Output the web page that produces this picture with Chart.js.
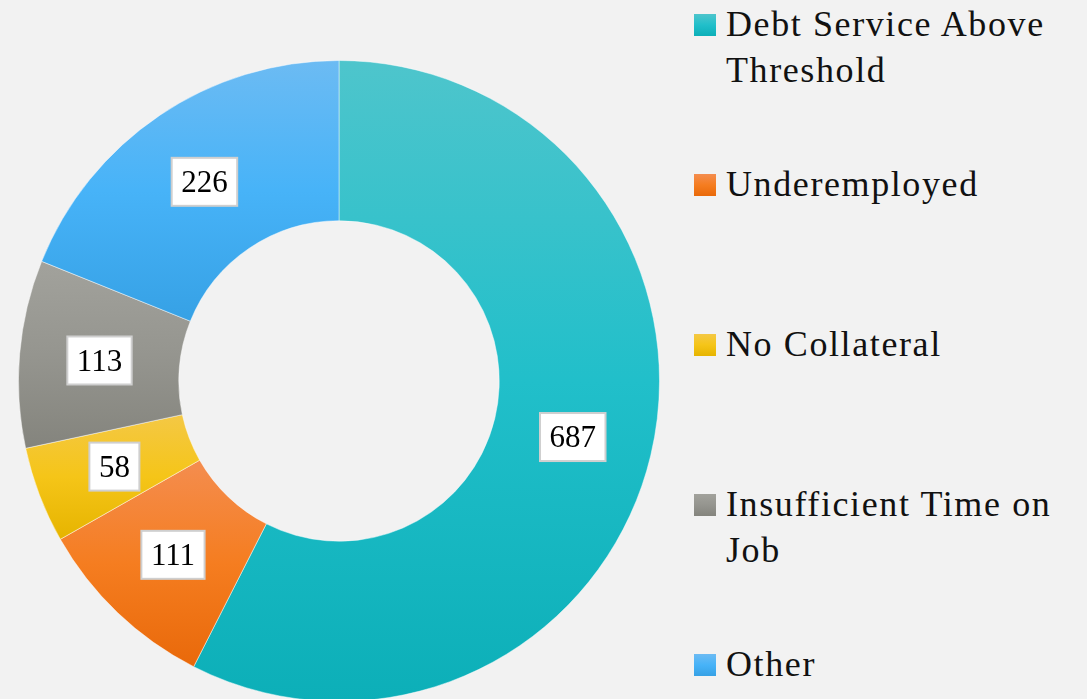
<!DOCTYPE html>
<html>
<head>
<meta charset="utf-8">
<script src="https://cdn.jsdelivr.net/npm/chart.js@4.4.1/dist/chart.umd.min.js"></script>
<style>
  html, body { margin: 0; padding: 0; background: #f2f2f2; overflow: hidden; width: 1087px; height: 699px; }
  #wrap { position: absolute; left: 18px; top: 60px; width: 642px; height: 642px; }
  #legend { position: absolute; left: 694px; top: 0; width: 393px; height: 699px;
            font-family: "Liberation Serif", serif; font-size: 36px; letter-spacing: 1.6px; color: #111; }
  .item { position: absolute; left: 0; }
  .sw { position: absolute; left: 0; top: 13px; width: 22px; height: 22px; }
  .txt { position: absolute; left: 32px; width: 350px; line-height: 46px; }
</style>
</head>
<body>
<div id="wrap"><canvas id="chart"></canvas></div>
<div id="legend"></div>
<script>
// data
const labels = ['Debt Service Above Threshold', 'Underemployed', 'No Collateral', 'Insufficient Time on Job', 'Other'];
const values = [687, 111, 58, 113, 226];

// colours: each slice shades from top to bottom
const topColors = ['#4ec5cc', '#f48d4f', '#f4c845', '#a2a29c', '#6cbbf3'];
const midColors = ['#21bfca', '#f57d20', '#f5c518', '#95958f', '#47b3f8'];
const bottomColors = ['#0cafb8', '#e9690a', '#e6b400', '#84847d', '#36a1e5'];

// fill each arc with a vertical gradient over its own height
const sliceGradient = {
    id: 'sliceGradient',
    beforeDatasetsDraw(chart) {
        const ctx = chart.ctx;
        chart.getDatasetMeta(0).data.forEach((arc, i) => {
            let minY = Infinity, maxY = -Infinity;
            for (let s = 0; s <= 64; s++) {
                const a = arc.startAngle + (arc.endAngle - arc.startAngle) * s / 64;
                for (const r of [arc.innerRadius, arc.outerRadius]) {
                    const y = arc.y + r * Math.sin(a);
                    minY = Math.min(minY, y);
                    maxY = Math.max(maxY, y);
                }
            }
            const g = ctx.createLinearGradient(0, minY, 0, maxY);
            g.addColorStop(0, topColors[i]);
            g.addColorStop(0.5, midColors[i]);
            g.addColorStop(1, bottomColors[i]);
            arc.options = Object.assign({}, arc.options, {backgroundColor: g});
        });
    }
};

// white value boxes at the middle of each slice
const valueBoxes = {
    id: 'valueBoxes',
    afterDatasetsDraw(chart) {
        const ctx = chart.ctx;
        ctx.save();
        ctx.font = '31px "Liberation Serif", serif';
        ctx.textAlign = 'center';
        ctx.textBaseline = 'middle';
        chart.getDatasetMeta(0).data.forEach((arc, i) => {
            const p = arc.tooltipPosition();
            const text = String(chart.data.datasets[0].data[i]);
            const w = ctx.measureText(text).width + 19;
            const h = 48;
            ctx.fillStyle = '#ffffff';
            ctx.fillRect(p.x - w / 2, p.y - h / 2, w, h);
            ctx.strokeStyle = '#cfcfcf';
            ctx.lineWidth = 2;
            ctx.strokeRect(p.x - w / 2, p.y - h / 2, w, h);
            ctx.fillStyle = '#000000';
            ctx.fillText(text, p.x, p.y + 2);
        });
        ctx.restore();
    }
};

const chart = new Chart(document.getElementById('chart'), {
    type: 'doughnut',
    data: {
        labels: labels,
        datasets: [{
            data: values,
            backgroundColor: midColors,
            borderColor: 'rgba(255, 255, 255, 0.45)',
            borderWidth: 1
        }]
    },
    options: {
        responsive: true,
        maintainAspectRatio: false,
        animation: false,
        cutout: '50%',
        layout: {padding: 0},
        plugins: {
            legend: {display: false},
            tooltip: {enabled: false}
        }
    },
    plugins: [sliceGradient, valueBoxes]
});

// legend on the right
const legend = document.getElementById('legend');
labels.forEach((label, i) => {
    const item = document.createElement('div');
    item.className = 'item';
    item.style.top = (1 + i * 160) + 'px';
    const sw = document.createElement('span');
    sw.className = 'sw';
    sw.style.background = 'linear-gradient(' + topColors[i] + ', ' + midColors[i] + ', ' + bottomColors[i] + ')';
    const txt = document.createElement('div');
    txt.className = 'txt';
    txt.textContent = label;
    item.appendChild(sw);
    item.appendChild(txt);
    legend.appendChild(item);
});
</script>
</body>
</html>
